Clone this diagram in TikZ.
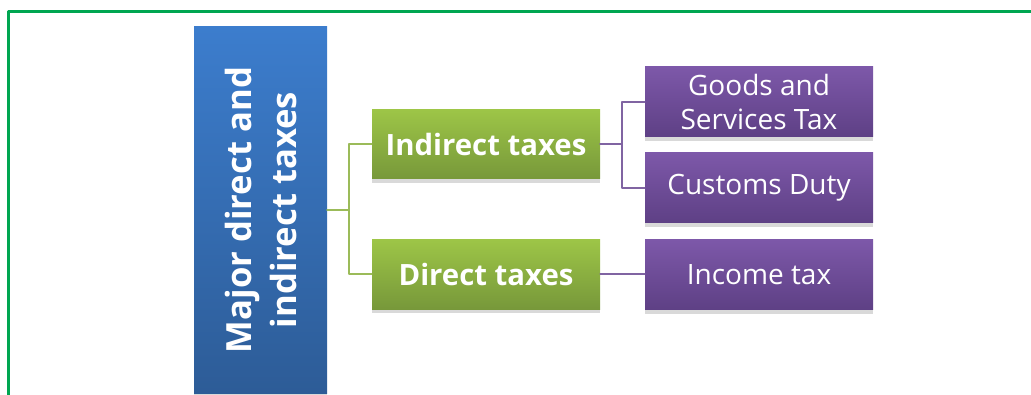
\documentclass[tikz,border=0pt]{standalone}
\usepackage{fontspec}
\setmainfont{Open Sans}
\usepackage{tikz}
\usetikzlibrary{shadows,calc}
\definecolor{framegreen}{HTML}{00A651}
\definecolor{bluetop}{HTML}{3C7DCD}
\definecolor{bluebot}{HTML}{2D5C97}
\definecolor{greentop}{HTML}{9DC547}
\definecolor{greenbot}{HTML}{77983A}
\definecolor{purpletop}{HTML}{7D58A9}
\definecolor{purplebot}{HTML}{5E4085}
\definecolor{greenlink}{HTML}{9BBB59}
\definecolor{purplelink}{HTML}{8064A2}
\tikzset{
  taxbox/.style={inner sep=0pt,text=white,align=center,
    drop shadow={shadow xshift=0pt,shadow yshift=-3pt,opacity=0.3}},
  rootbox/.style={taxbox,top color=bluetop,bottom color=bluebot,
    minimum width=99.75pt,minimum height=274.5pt},
  kindbox/.style={taxbox,top color=greentop,bottom color=greenbot,
    minimum width=171pt,minimum height=51.75pt,
    font=\fontsize{22}{26}\selectfont\bfseries},
  leafbox/.style={taxbox,top color=purpletop,bottom color=purplebot,
    minimum width=171pt,minimum height=52.5pt,
    font=\fontsize{21}{26}\selectfont},
  greenline/.style={draw=greenlink,line width=1.5pt},
  purpleline/.style={draw=purplelink,line width=1.5pt}
}
\begin{document}
\begin{tikzpicture}[line cap=round,line join=round,x=0.75pt,y=-0.75pt]
\useasboundingbox (0,0) rectangle (1031,395);
\clip (0,0) rectangle (1031,395);
% frame
\draw [framegreen,line width=2.25pt] (8,12) rectangle (1045,410);
% boxes
\node [rootbox] (major) at (260.5,210) {};
\node [rotate=90,text=white,align=center,font=\fontsize{26}{33.75}\selectfont\bfseries] (majortext) at (major.center) {Major direct and\\indirect taxes};
\node [kindbox] (indirect) at (486,144.5) {Indirect taxes};
\node [kindbox] (direct) at (486,274.5) {Direct taxes};
\node [leafbox] (gst) at (759,102) {Goods and\\Services Tax};
\node [leafbox] (customs) at (759,188) {Customs Duty};
\node [leafbox] (income) at (759,274.5) {Income tax};
% links
\draw [greenline] (major.east) -- ++(22,0) |- (indirect.west);
\draw [greenline] (major.east) -- ++(22,0) |- (direct.west);
\draw [purpleline] (indirect.east) -- ++(22,0) |- (gst.west);
\draw [purpleline] (indirect.east) -- ++(22,0) |- (customs.west);
\draw [purpleline] (direct.east) -- (income.west);
\end{tikzpicture}
\end{document}
